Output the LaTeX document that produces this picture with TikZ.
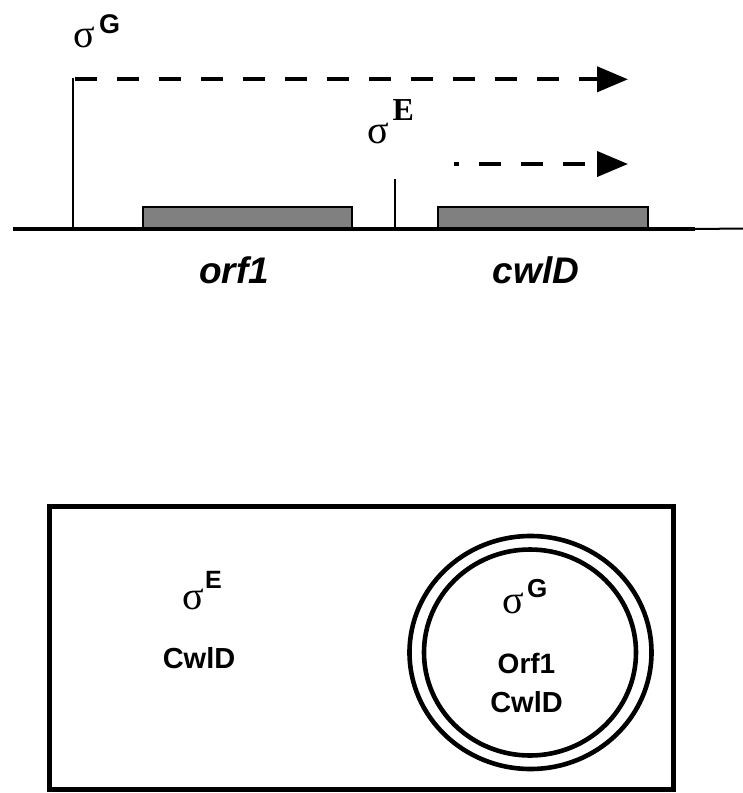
\documentclass[tikz,border=0pt]{standalone}
\usepackage{fontspec}
\setmainfont{Liberation Sans}
\newfontfamily\greekfont{Liberation Serif}
\usetikzlibrary{arrows.meta,shapes.geometric}
\definecolor{genegray}{HTML}{808080}

\begin{document}
\begin{tikzpicture}[x=1pt,y=-1pt,
  genebox/.style={draw, fill=genegray, line width=2pt, inner sep=0pt,
                  minimum height=22pt, anchor=center},
  promoter/.style={line width=2.6pt},
  transcript/.style={line width=4pt, dash pattern=on 22pt off 20pt,
                     -{Triangle[length=31pt,width=25pt]}},
  sigsym/.style={font={\greekfont\fontsize{40}{40}\selectfont}, inner sep=0pt, anchor=base west},
  supsans/.style={font={\bfseries\fontsize{26}{26}\selectfont}, inner sep=0pt, anchor=base west},
  supserif/.style={font={\greekfont\bfseries\fontsize{32}{32}\selectfont}, inner sep=0pt, anchor=base west},
  genename/.style={font={\bfseries\itshape\fontsize{37}{37}\selectfont}, inner sep=0pt, anchor=base},
  protein/.style={font={\bfseries\fontsize{29}{29}\selectfont}, inner sep=0pt, anchor=base},
  ring/.style={draw, ellipse, line width=4.6pt, inner sep=0pt}]
\useasboundingbox (0,0) rectangle (743,793);

% --- gene map ---
\node[genebox, minimum width=209.3pt] (orfbox) at (247.6,218) {};
\node[genebox, minimum width=210.3pt] (cwlbox) at (543.2,218) {};

\coordinate (lineL) at (13,229);
\coordinate (lineM) at (695,229);
\coordinate (lineR) at (743,228.5);
\draw[line width=4pt] (lineL) -- (lineM);
\draw[line width=2pt] (lineM) -- (lineR);

% sigma G promoter and its transcript
\coordinate (pGbase) at (73,229);
\coordinate (pGtop) at (73,78);
\coordinate (tGstart) at (75,79.3);
\coordinate (tGend) at (628,79.3);
\draw[promoter] (pGbase) -- (pGtop);
\draw[transcript] (tGstart) -- (tGend);

% sigma E promoter and its transcript
\coordinate (pEbase) at (395,229);
\coordinate (pEtop) at (395,179);
\coordinate (tEstart) at (454,164);
\coordinate (tEend) at (628,164);
\draw[promoter, line width=2.2pt] (pEbase) -- (pEtop);
\draw[transcript, dash phase=17pt] (tEstart) -- (tEend);

% promoter labels
\node[sigsym] (sigG) at (73,47) {σ};
\node[supsans, font={\bfseries\fontsize{27}{27}\selectfont}] (supG) at (99,33) {G};
\node[sigsym] (sigE) at (367,143) {σ};
\node[supserif] (supE) at (392.5,120) {E};

% gene names
\node[genename] (orfname) at (234,283) {orf1};
\node[genename] (cwlname) at (536,283) {cwlD};

% --- sporangium ---
\node[draw, line width=5pt, minimum width=624pt, minimum height=283pt,
      inner sep=0pt] (cell) at (361,647.5) {};
\node[ring, minimum width=242pt, minimum height=233pt] (outerring) at (530.5,652.5) {};
\node[ring, minimum width=212pt, minimum height=206pt] (innerring) at (530,652.5) {};

% mother cell compartment
\node[sigsym] (mcSig) at (182,609) {σ};
\node[supsans, font={\bfseries\fontsize{25}{25}\selectfont}] (mcSup) at (205,588) {E};
\node[protein] (mcCwl) at (199,668) {CwlD};

% forespore compartment
\node[sigsym] (fsSig) at (502,613) {σ};
\node[supsans] (fsSup) at (527,597) {G};
\node[protein, font={\bfseries\fontsize{28}{28}\selectfont}] (fsOrf) at (526.5,673) {Orf1};
\node[protein] (fsCwl) at (526.5,712) {CwlD};
\end{tikzpicture}
\end{document}
